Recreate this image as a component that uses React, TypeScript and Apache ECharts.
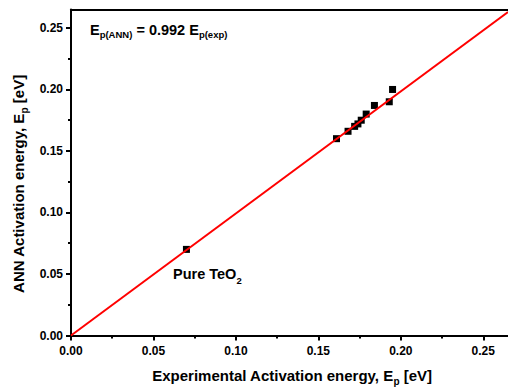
import React, { useEffect, useRef } from 'react';
import * as echarts from 'echarts';

const expX = [0.07, 0.161, 0.168, 0.172, 0.174, 0.176, 0.179, 0.184, 0.193, 0.195];
const annY = [0.07, 0.16, 0.166, 0.17, 0.172, 0.175, 0.18, 0.187, 0.19, 0.2];
const fitX = [0, 0.265];
const fitY = [0, 0.263];
const majorTicks = [0, 0.05, 0.1, 0.15, 0.2, 0.25];
const minorTicks = [0.025, 0.075, 0.125, 0.175, 0.225];
const AXIS_MAX = 0.265;

const FONT = '"Liberation Sans", Arial, Helvetica, sans-serif';

function richStyles(main: number, sub: number, drop: number) {
  return {
    m: { fontSize: main, fontWeight: 'bold', fontFamily: FONT, color: '#000', lineHeight: 24, verticalAlign: 'top' },
    s: {
      fontSize: sub, fontWeight: 'bold', fontFamily: FONT, color: '#000', lineHeight: 24,
      verticalAlign: 'top', padding: [drop, 0, 0, 0],
    },
  };
}

export default function App() {
  const ref = useRef<HTMLDivElement>(null);
  useEffect(() => {
    if (!ref.current) return;
    const chart = echarts.init(ref.current, undefined, { renderer: 'svg' });
    const lineStyle = { color: '#000', width: 2 };
    const labelStyle = {
      fontSize: 12,
      fontWeight: 'bold',
      color: '#000',
      fontFamily: FONT,
      formatter: (v: number) => v.toFixed(2),
    };
    const scatterData = expX.map((x, i) => [x, annY[i]]);
    const fitData = fitX.map((x, i) => [x, fitY[i]]);
    chart.setOption({
      animation: false,
      grid: { left: 71, right: -5, top: 9.5, bottom: 56.5, containLabel: false },
      xAxis: [
        {
          type: 'value', min: 0, max: AXIS_MAX, position: 'bottom',
          axisLine: { show: true, onZero: false, lineStyle },
          axisTick: { show: true, customValues: majorTicks, length: 5, lineStyle },
          axisLabel: { ...labelStyle, customValues: majorTicks, margin: 9 },
          splitLine: { show: false },
        },
        {
          type: 'value', min: 0, max: AXIS_MAX, position: 'bottom',
          axisLine: { show: false, onZero: false },
          axisTick: { show: true, customValues: minorTicks, length: 3, lineStyle },
          axisLabel: { show: false },
          splitLine: { show: false },
        },
        {
          type: 'value', min: 0, max: AXIS_MAX, position: 'top',
          axisLine: { show: true, onZero: false, lineStyle },
          axisTick: { show: false },
          axisLabel: { show: false },
          splitLine: { show: false },
        },
      ],
      yAxis: [
        {
          type: 'value', min: 0, max: AXIS_MAX, position: 'left',
          axisLine: { show: true, onZero: false, lineStyle },
          axisTick: { show: true, customValues: majorTicks, length: 5, lineStyle },
          axisLabel: { ...labelStyle, customValues: majorTicks, margin: 8 },
          splitLine: { show: false },
        },
        {
          type: 'value', min: 0, max: AXIS_MAX, position: 'left',
          axisLine: { show: false, onZero: false },
          axisTick: { show: true, customValues: minorTicks, length: 3, lineStyle },
          axisLabel: { show: false },
          splitLine: { show: false },
        },
      ],
      series: [
        {
          type: 'scatter', xAxisIndex: 0, yAxisIndex: 0,
          data: scatterData, symbol: 'rect', symbolSize: 7,
          itemStyle: { color: '#000', opacity: 1 }, z: 2,
        },
        {
          type: 'line', xAxisIndex: 0, yAxisIndex: 0,
          data: fitData, showSymbol: false, symbol: 'none',
          lineStyle: { color: '#ff0000', width: 2 }, z: 3, clip: true,
        },
      ],
      graphic: [
        {
          type: 'text', x: 292, y: 367.5,
          style: {
            text: '{m|Experimental Activation energy, E}{s|p}{m| [eV]}',
            align: 'center', verticalAlign: 'top',
            rich: richStyles(15, 10, 8.5),
          },
        },
        {
          type: 'text', x: 10.5, y: 184, rotation: Math.PI / 2,
          style: {
            text: '{m|ANN Activation energy, E}{s|p}{m| [eV]}',
            align: 'center', verticalAlign: 'top',
            rich: richStyles(15, 10, 8.5),
          },
        },
        {
          type: 'text', x: 90, y: 22,
          style: {
            text: '{m|E}{s|p(ANN)}{m| = 0.992 E}{s|p(exp)}',
            align: 'left', verticalAlign: 'top',
            rich: richStyles(14.5, 9.5, 7),
          },
        },
        {
          type: 'text', x: 173, y: 266.5,
          style: {
            text: '{m|Pure TeO}{s|2}',
            align: 'left', verticalAlign: 'top',
            rich: richStyles(14.5, 9.5, 9),
          },
        },
      ],
    });
    return () => chart.dispose();
  }, []);
  return (
    <div
      ref={ref}
      style={{ position: 'fixed', left: 0, top: 0, width: 508, height: 392, background: '#fff' }}
    />
  );
}
